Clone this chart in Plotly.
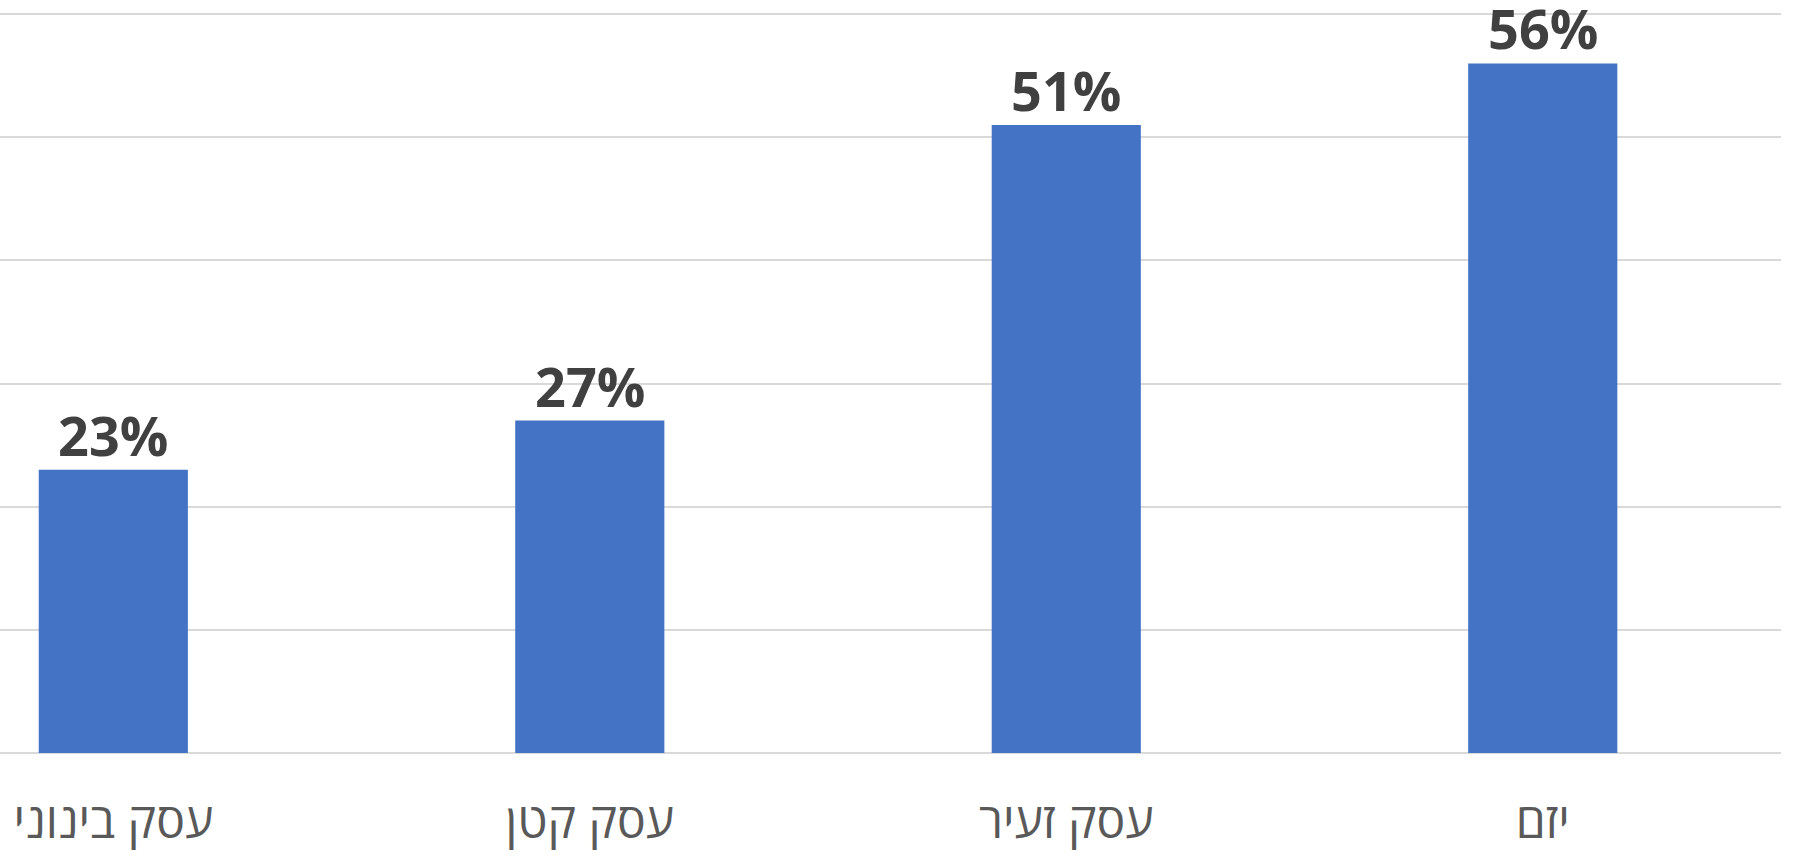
import plotly.graph_objects as go

categories = ["עסק בינוני", "עסק קטן", "עסק זעיר", "יזם"]
values = [23, 27, 51, 56]
value_labels = ["23%", "27%", "51%", "56%"]

fig = go.Figure(
    go.Bar(
        x=categories,
        y=values,
        marker=dict(color="#4472C4", line=dict(width=0)),
        width=0.313,
        hoverinfo="skip",
    )
)

for cat, val, lab in zip(categories, values, value_labels):
    fig.add_annotation(
        x=cat,
        y=val,
        xref="x",
        yref="y",
        text=lab,
        showarrow=False,
        yanchor="bottom",
        xanchor="center",
        yshift=-4,
        font=dict(family="Open Sans", size=54, color="#404040", weight="bold"),
    )

fig.update_layout(
    width=1793,
    height=858,
    margin=dict(l=0, r=12, t=8, b=105),
    paper_bgcolor="white",
    plot_bgcolor="white",
    showlegend=False,
    xaxis=dict(
        type="category",
        range=[-0.2378, 3.5],
        showgrid=False,
        showline=False,
        zeroline=False,
        ticks="",
        tickfont=dict(family="Open Sans", size=48, color="#595959"),
        ticklabelstandoff=36,
    ),
    yaxis=dict(
        range=[0, 60.5],
        dtick=10,
        tick0=0,
        showgrid=True,
        gridcolor="#d9d9d9",
        gridwidth=2,
        zeroline=True,
        zerolinecolor="#d9d9d9",
        zerolinewidth=2,
        showticklabels=False,
        ticks="",
        showline=False,
    ),
)

fig.write_html(
    "out.html",
    config={"displayModeBar": False},
    post_script="document.body.style.margin='0';document.body.style.overflow='hidden';",
)
